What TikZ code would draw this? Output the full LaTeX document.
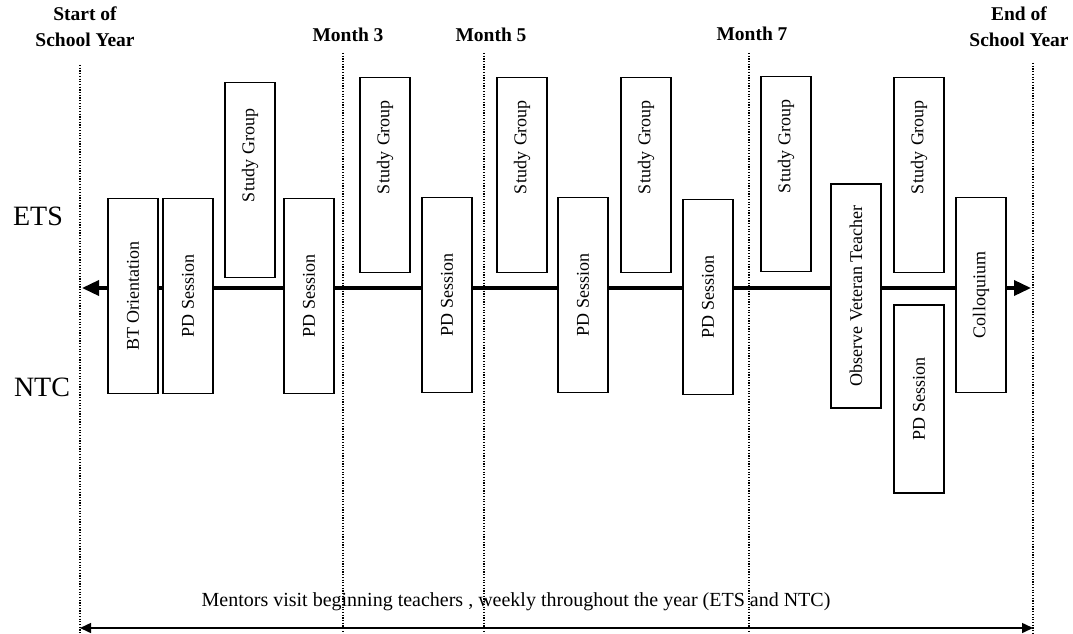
\documentclass[tikz,border=0pt]{standalone}
\usepackage{fontspec}
\setmainfont{Liberation Serif}
\usetikzlibrary{arrows.meta}

\tikzset{
  event/.style={draw, line width=1.2pt, fill=white, rotate=90, inner sep=0pt,
    minimum width=195pt, minimum height=50pt, font=\fontsize{18}{20}\selectfont},
  study/.style={event, text width=150pt, align=right, inner xsep=22pt},
  month/.style={font=\bfseries\fontsize{19.5}{26}\selectfont, align=center},
  side/.style={font=\fontsize{28}{30}\selectfont},
  marker/.style={line width=1.1pt, dash pattern=on 1.2pt off 1.5pt}
}

\begin{document}
\begin{tikzpicture}[x=1pt, y=-1pt]
\useasboundingbox[fill=white] (0,0) rectangle (1073,634);

% time markers
\foreach \x/\top in {80/65, 343/53, 484/53, 749/53, 1033/63}
  \draw[marker] (\x,\top) -- (\x,634);

\node[month] (start) at (85,27) {Start of\\School Year};
\node[month] (m3) at (348,35) {Month 3};
\node[month] (m5) at (491,35) {Month 5};
\node[month] (m7) at (752,34) {Month 7};
\node[month] (yearend) at (1019,27) {End of\\School Year};

\node[side] (ets) at (38,216) {ETS};
\node[side] (ntc) at (42,387) {NTC};

% main timeline
\coordinate (tl) at (82,288);
\coordinate (tr) at (1031,288);
\draw[line width=3.5pt, {Triangle[length=17pt,width=15pt]}-{Triangle[length=17pt,width=15pt]}] (tl) -- (tr);

% events
\node[event] (orient) at (133,296) {BT Orientation};
\node[event] (pd1) at (188,296) {PD Session};
\node[study, text width=144pt] (sg1) at (250,180) {Study Group};
\node[event] (pd2) at (309,296) {PD Session};
\node[study] (sg2) at (385,175) {Study Group};
\node[event] (pd3) at (447,295) {PD Session};
\node[study] (sg3) at (522,175) {Study Group};
\node[event] (pd4) at (583,295) {PD Session};
\node[study] (sg4) at (646,175) {Study Group};
\node[event] (pd5) at (708,297) {PD Session};
\node[study] (sg5) at (786,174) {Study Group};
\node[event, minimum width=224pt] (observe) at (856,296) {Observe Veteran Teacher};
\node[study] (sg6) at (919,175) {Study Group};
\node[event, minimum width=188pt] (pd6) at (919,399) {PD Session};
\node[event] (colloq) at (981,295) {Colloquium};

% mentoring
\node[font=\fontsize{20}{22}\selectfont] (mentor) at (516,602)
  {Mentors visit beginning teachers , weekly throughout the year (ETS and NTC)};
\coordinate (bl) at (80,628);
\coordinate (br) at (1033,628);
\draw[line width=1.5pt, {Triangle[length=11pt,width=10pt]}-{Triangle[length=11pt,width=10pt]}] (bl) -- (br);
\end{tikzpicture}
\end{document}
